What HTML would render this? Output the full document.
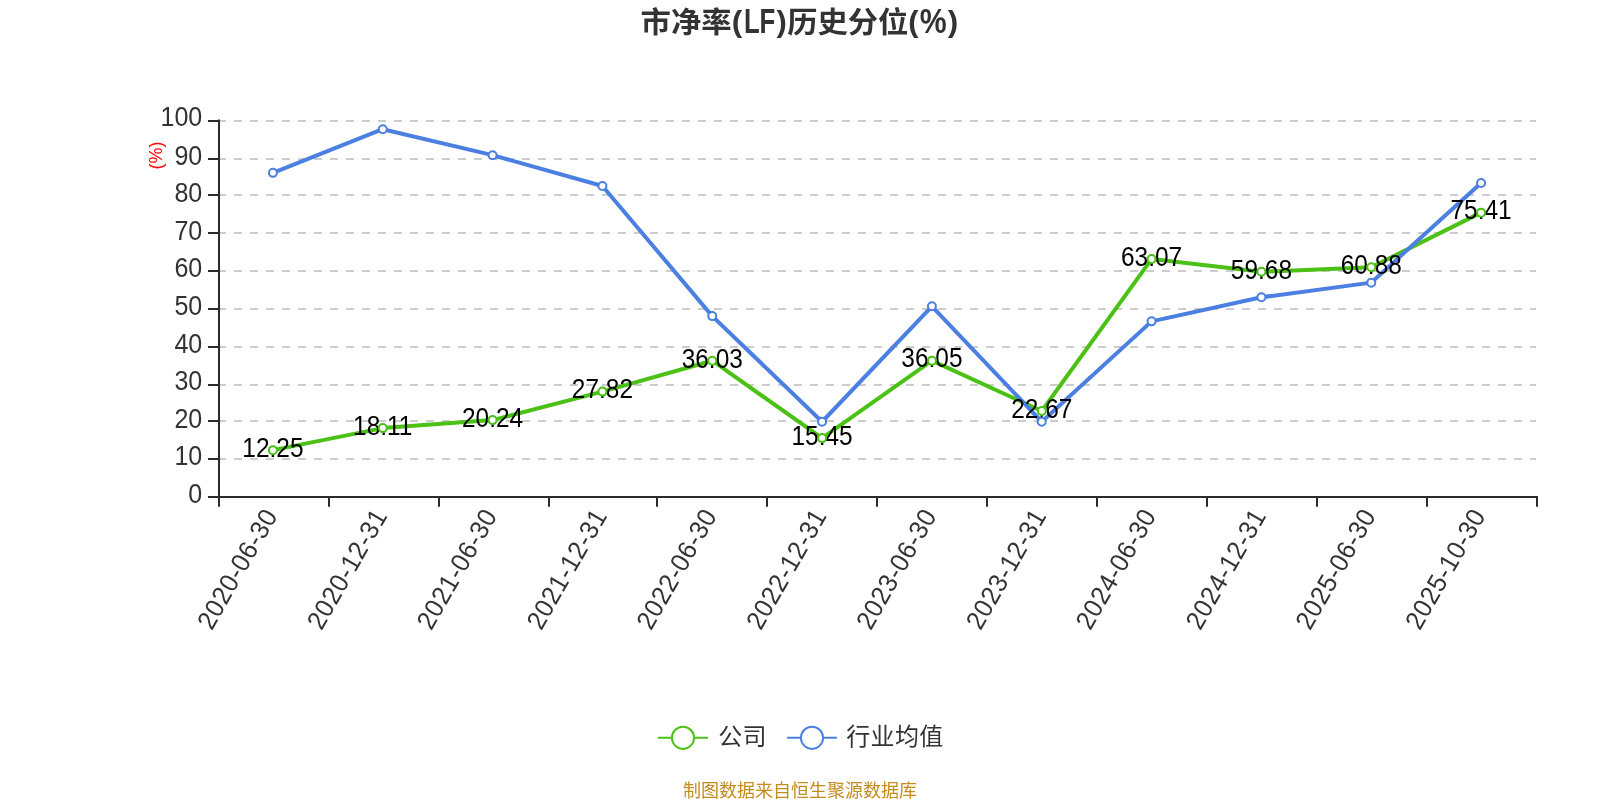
<!DOCTYPE html>
<html lang="zh-CN"><head><meta charset="utf-8"><title>市净率(LF)历史分位(%)</title>
<style>html,body{margin:0;padding:0;background:#fff;}body{width:1600px;height:800px;overflow:hidden;}svg{display:block;will-change:transform;font-family:"Liberation Sans","Noto Sans CJK SC",sans-serif;}</style></head><body>
<svg width="1600" height="800" viewBox="0 0 1600 800">
<rect width="1600" height="800" fill="#fff"/>
<g font-size="30" font-weight="bold" fill="#333"><text transform="translate(640.6,33.1) scale(1.011,0.967)">市净率</text><text transform="translate(731.76,32.1) scale(1.053,1.0)">(</text><text transform="translate(743.91,32.8) scale(0.858,1.143)">LF</text><text transform="translate(776.58,32.1) scale(1.03,1.0)">)</text><text transform="translate(787.14,33.1) scale(1.011,0.967)">历史分位</text><text transform="translate(908.36,32.1) scale(1.033,1.0)">(</text><text transform="translate(919.79,33.1) scale(1.009,1.156)">%</text><text transform="translate(947.75,32.1) scale(1.05,1.0)">)</text></g>
<g stroke="#ccc" stroke-width="2" stroke-dasharray="8 8" fill="none">
<line x1="218.0" y1="459" x2="1536.0" y2="459"/>
<line x1="218.0" y1="421" x2="1536.0" y2="421"/>
<line x1="218.0" y1="385" x2="1536.0" y2="385"/>
<line x1="218.0" y1="347" x2="1536.0" y2="347"/>
<line x1="218.0" y1="309" x2="1536.0" y2="309"/>
<line x1="218.0" y1="271" x2="1536.0" y2="271"/>
<line x1="218.0" y1="233" x2="1536.0" y2="233"/>
<line x1="218.0" y1="195" x2="1536.0" y2="195"/>
<line x1="218.0" y1="159" x2="1536.0" y2="159"/>
<line x1="218.0" y1="121" x2="1536.0" y2="121"/>
</g>
<g stroke="#2b2b2b" stroke-width="2" fill="none">
<line x1="219" y1="119.5" x2="219" y2="498"/>
<line x1="218" y1="497" x2="1538" y2="497"/>
<line x1="208" y1="497" x2="219" y2="497"/>
<line x1="208" y1="459" x2="219" y2="459"/>
<line x1="208" y1="421" x2="219" y2="421"/>
<line x1="208" y1="385" x2="219" y2="385"/>
<line x1="208" y1="347" x2="219" y2="347"/>
<line x1="208" y1="309" x2="219" y2="309"/>
<line x1="208" y1="271" x2="219" y2="271"/>
<line x1="208" y1="233" x2="219" y2="233"/>
<line x1="208" y1="195" x2="219" y2="195"/>
<line x1="208" y1="159" x2="219" y2="159"/>
<line x1="208" y1="121" x2="219" y2="121"/>
<line x1="219" y1="497" x2="219" y2="506.7"/>
<line x1="329" y1="497" x2="329" y2="506.7"/>
<line x1="439" y1="497" x2="439" y2="506.7"/>
<line x1="549" y1="497" x2="549" y2="506.7"/>
<line x1="657" y1="497" x2="657" y2="506.7"/>
<line x1="767" y1="497" x2="767" y2="506.7"/>
<line x1="877" y1="497" x2="877" y2="506.7"/>
<line x1="987" y1="497" x2="987" y2="506.7"/>
<line x1="1097" y1="497" x2="1097" y2="506.7"/>
<line x1="1207" y1="497" x2="1207" y2="506.7"/>
<line x1="1317" y1="497" x2="1317" y2="506.7"/>
<line x1="1427" y1="497" x2="1427" y2="506.7"/>
<line x1="1537" y1="497" x2="1537" y2="506.7"/>
</g>
<g font-size="27" fill="#333" text-anchor="end">
<text transform="translate(202.3,502.9) scale(0.928,1)">0</text>
<text transform="translate(202.3,465.3) scale(0.928,1)">10</text>
<text transform="translate(202.3,427.7) scale(0.928,1)">20</text>
<text transform="translate(202.3,390.1) scale(0.928,1)">30</text>
<text transform="translate(202.3,352.5) scale(0.928,1)">40</text>
<text transform="translate(202.3,314.9) scale(0.928,1)">50</text>
<text transform="translate(202.3,277.3) scale(0.928,1)">60</text>
<text transform="translate(202.3,239.7) scale(0.928,1)">70</text>
<text transform="translate(202.3,202.1) scale(0.928,1)">80</text>
<text transform="translate(202.3,164.5) scale(0.928,1)">90</text>
<text transform="translate(202.3,126.1) scale(0.928,1)">100</text>
</g>
<text transform="translate(162.4,155.6) rotate(-90)" text-anchor="middle" font-size="18" fill="#f00">(%)</text>
<g font-size="26.4" fill="#333" text-anchor="end">
<text transform="translate(273.92,513.5) rotate(-60) scale(0.949,1)" x="0" y="4.9" textLength="140.2" lengthAdjust="spacing">2020-06-30</text>
<text transform="translate(383.75,513.5) rotate(-60) scale(0.949,1)" x="0" y="4.9" textLength="140.2" lengthAdjust="spacing">2020-12-31</text>
<text transform="translate(493.58,513.5) rotate(-60) scale(0.949,1)" x="0" y="4.9" textLength="140.2" lengthAdjust="spacing">2021-06-30</text>
<text transform="translate(603.42,513.5) rotate(-60) scale(0.949,1)" x="0" y="4.9" textLength="140.2" lengthAdjust="spacing">2021-12-31</text>
<text transform="translate(713.25,513.5) rotate(-60) scale(0.949,1)" x="0" y="4.9" textLength="140.2" lengthAdjust="spacing">2022-06-30</text>
<text transform="translate(823.08,513.5) rotate(-60) scale(0.949,1)" x="0" y="4.9" textLength="140.2" lengthAdjust="spacing">2022-12-31</text>
<text transform="translate(932.92,513.5) rotate(-60) scale(0.949,1)" x="0" y="4.9" textLength="140.2" lengthAdjust="spacing">2023-06-30</text>
<text transform="translate(1042.75,513.5) rotate(-60) scale(0.949,1)" x="0" y="4.9" textLength="140.2" lengthAdjust="spacing">2023-12-31</text>
<text transform="translate(1152.58,513.5) rotate(-60) scale(0.949,1)" x="0" y="4.9" textLength="140.2" lengthAdjust="spacing">2024-06-30</text>
<text transform="translate(1262.42,513.5) rotate(-60) scale(0.949,1)" x="0" y="4.9" textLength="140.2" lengthAdjust="spacing">2024-12-31</text>
<text transform="translate(1372.25,513.5) rotate(-60) scale(0.949,1)" x="0" y="4.9" textLength="140.2" lengthAdjust="spacing">2025-06-30</text>
<text transform="translate(1482.08,513.5) rotate(-60) scale(0.949,1)" x="0" y="4.9" textLength="140.2" lengthAdjust="spacing">2025-10-30</text>
</g>
<polyline points="272.92,450.14 382.75,428.11 492.58,420.10 602.42,391.60 712.25,360.73 822.08,438.11 931.92,360.65 1041.75,410.96 1151.58,259.06 1261.42,271.80 1371.25,267.29 1481.08,212.66" fill="none" stroke="#4bc116" stroke-width="4" stroke-linejoin="bevel"/>
<polyline points="272.92,172.84 382.75,129.22 492.58,155.17 602.42,186.00 712.25,316.10 822.08,421.75 931.92,306.32 1041.75,421.75 1151.58,321.36 1261.42,297.30 1371.25,282.63 1481.08,182.99" fill="none" stroke="#4b7fe1" stroke-width="4" stroke-linejoin="bevel"/>
<g font-size="27.6" fill="#000" text-anchor="middle">
<text transform="translate(272.92,456.94) scale(0.886,1)">12.25</text>
<text transform="translate(382.75,434.91) scale(0.886,1)">18.11</text>
<text transform="translate(492.58,426.90) scale(0.886,1)">20.24</text>
<text transform="translate(602.42,398.40) scale(0.886,1)">27.82</text>
<text transform="translate(712.25,367.53) scale(0.886,1)">36.03</text>
<text transform="translate(822.08,444.91) scale(0.886,1)">15.45</text>
<text transform="translate(931.92,367.45) scale(0.886,1)">36.05</text>
<text transform="translate(1041.75,417.76) scale(0.886,1)">22.67</text>
<text transform="translate(1151.58,265.86) scale(0.886,1)">63.07</text>
<text transform="translate(1261.42,278.60) scale(0.886,1)">59.68</text>
<text transform="translate(1371.25,274.09) scale(0.886,1)">60.88</text>
<text transform="translate(1481.08,219.46) scale(0.886,1)">75.41</text>
</g>
<g fill="#fff" stroke="#4bc116" stroke-width="2">
<circle cx="272.92" cy="450.14" r="4"/>
<circle cx="382.75" cy="428.11" r="4"/>
<circle cx="492.58" cy="420.10" r="4"/>
<circle cx="602.42" cy="391.60" r="4"/>
<circle cx="712.25" cy="360.73" r="4"/>
<circle cx="822.08" cy="438.11" r="4"/>
<circle cx="931.92" cy="360.65" r="4"/>
<circle cx="1041.75" cy="410.96" r="4"/>
<circle cx="1151.58" cy="259.06" r="4"/>
<circle cx="1261.42" cy="271.80" r="4"/>
<circle cx="1371.25" cy="267.29" r="4"/>
<circle cx="1481.08" cy="212.66" r="4"/>
</g>
<g fill="#fff" stroke="#4b7fe1" stroke-width="2">
<circle cx="272.92" cy="172.84" r="4"/>
<circle cx="382.75" cy="129.22" r="4"/>
<circle cx="492.58" cy="155.17" r="4"/>
<circle cx="602.42" cy="186.00" r="4"/>
<circle cx="712.25" cy="316.10" r="4"/>
<circle cx="822.08" cy="421.75" r="4"/>
<circle cx="931.92" cy="306.32" r="4"/>
<circle cx="1041.75" cy="421.75" r="4"/>
<circle cx="1151.58" cy="321.36" r="4"/>
<circle cx="1261.42" cy="297.30" r="4"/>
<circle cx="1371.25" cy="282.63" r="4"/>
<circle cx="1481.08" cy="182.99" r="4"/>
</g>
<line x1="658" y1="737.8" x2="708" y2="737.8" stroke="#4bc116" stroke-width="2"/>
<circle cx="683" cy="737.8" r="11.1" fill="#fff" stroke="#4bc116" stroke-width="2"/>
<text x="718.3" y="744.8" font-size="24" letter-spacing="0.3" fill="#333">公司</text>
<line x1="787" y1="737.8" x2="837" y2="737.8" stroke="#4b7fe1" stroke-width="2"/>
<circle cx="812" cy="737.8" r="11.1" fill="#fff" stroke="#4b7fe1" stroke-width="2"/>
<text x="846.3" y="744.8" font-size="24" letter-spacing="0.3" fill="#333">行业均值</text>
<text x="800" y="796.5" text-anchor="middle" font-size="18" fill="#c48c1f">制图数据来自恒生聚源数据库</text>
</svg></body></html>
